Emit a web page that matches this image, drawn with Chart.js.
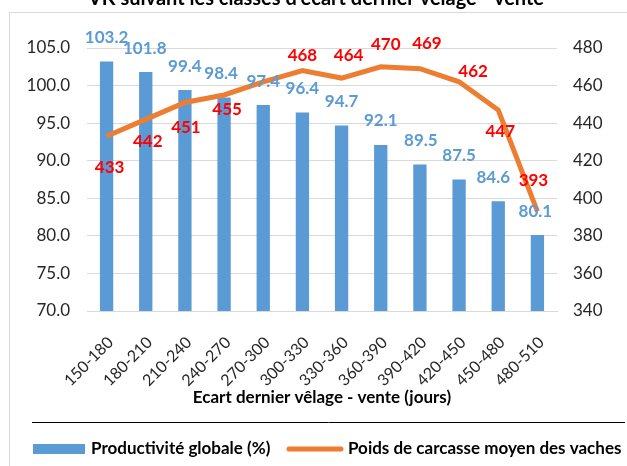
<!DOCTYPE html>
<html>
<head>
<meta charset="utf-8">
<script src="https://cdn.jsdelivr.net/npm/chart.js@4/dist/chart.umd.min.js"></script>
<style>
  html, body { margin: 0; padding: 0; background: #fff; overflow: hidden; }
  #wrap { position: relative; width: 627px; height: 466px; }
</style>
</head>
<body>
<div id="wrap"><canvas id="myChart" width="627" height="466"></canvas></div>
<script>
const categories = ['150-180', '180-210', '210-240', '240-270', '270-300', '300-330',
  '330-360', '360-390', '390-420', '420-450', '450-480', '480-510'];
const productivite = [103.2, 101.8, 99.4, 98.4, 97.4, 96.4, 94.7, 92.1, 89.5, 87.5, 84.6, 80.1];
const poidsCarcasse = [433, 442, 451, 455, 462, 468, 464, 470, 469, 462, 447, 393];
// the reference shows no label for 270-300
const poidsLabelShown = [true, true, true, true, false, true, true, true, true, true, true, true];

// label placement, pixels from the mark
const redOffsets = [[3, 31], [2, 22], [1, 25], [3, 15], [0, 0], [0, -15],
  [7, -23], [5, -22], [7, -25], [14, -10], [2, 22], [-4, -31]];
const blueOffsets = [0, -1, 0, -3, 0, 0, 0, 0, 1, 0, -5, -2];

const FONT = 'Lato, "Open Sans", sans-serif';
const BLUE = '#5B9BD5';
const ORANGE = '#ED7D31';

const decorations = {
  id: 'decorations',
  afterDatasetsDraw(chart) {
    const ctx = chart.ctx;
    ctx.save();
    ctx.textAlign = 'center';
    ctx.textBaseline = 'middle';
    ctx.font = 'bold 17px ' + FONT;

    ctx.fillStyle = BLUE;
    chart.getDatasetMeta(0).data.forEach(function (bar, i) {
      ctx.fillText(productivite[i].toFixed(1), bar.x + blueOffsets[i], bar.y - 24);
    });

    ctx.fillStyle = '#FF0000';
    chart.getDatasetMeta(1).data.forEach(function (pt, i) {
      if (!poidsLabelShown[i]) return;
      ctx.fillText(String(poidsCarcasse[i]), pt.x + redOffsets[i][0], pt.y + redOffsets[i][1]);
    });
    ctx.restore();
  },
  afterDraw(chart) {
    const ctx = chart.ctx;
    ctx.save();
    // frame
    ctx.strokeStyle = '#D9D9D9';
    ctx.lineWidth = 1;
    ctx.strokeRect(9.5, 12.5, 700, 500);

    // cut-off title
    ctx.fillStyle = '#000';
    ctx.font = 'bold 20px ' + FONT;
    ctx.textAlign = 'center';
    ctx.textBaseline = 'alphabetic';
    ctx.fillText("VK suivant les classes d'écart dernier vêlage - vente", 316, 5);

    // rule above the legend
    ctx.strokeStyle = '#000';
    ctx.beginPath();
    ctx.moveTo(32, 422.5);
    ctx.lineTo(625, 422.5);
    ctx.stroke();

    // legend
    ctx.fillStyle = BLUE;
    ctx.fillRect(33, 444, 52, 10);
    ctx.strokeStyle = ORANGE;
    ctx.lineWidth = 5;
    ctx.lineCap = 'round';
    ctx.beginPath();
    ctx.moveTo(289, 449);
    ctx.lineTo(341, 449);
    ctx.stroke();
    ctx.fillStyle = '#000';
    ctx.font = 'bold 17px ' + FONT;
    ctx.textAlign = 'left';
    ctx.textBaseline = 'middle';
    ctx.fillText('Productivité globale (%)', 91, 449);
    ctx.fillText('Poids de carcasse moyen des vaches', 348, 449);
    ctx.restore();
  }
};

const ctx = document.getElementById('myChart').getContext('2d');
const chart = new Chart(ctx, {
  type: 'bar',
  data: {
    labels: categories,
    datasets: [{
      label: 'Productivité globale (%)',
      data: productivite,
      backgroundColor: BLUE,
      categoryPercentage: 1,
      barPercentage: 0.34,
      yAxisID: 'y',
      order: 1,
    }, {
      type: 'line',
      label: 'Poids de carcasse moyen des vaches',
      data: poidsCarcasse,
      borderColor: ORANGE,
      borderWidth: 5,
      pointRadius: 0,
      tension: 0,
      fill: false,
      yAxisID: 'y1',
      order: 0,
    }],
  },
  options: {
    responsive: false,
    animation: false,
    layout: { padding: { left: 10, right: 0, top: 48, bottom: 58 } },
    plugins: {
      legend: { display: false },
      tooltip: { enabled: false },
    },
    scales: {
      x: {
        grid: { display: false },
        border: { color: '#D9D9D9' },
        ticks: {
          color: '#262626',
          font: { family: FONT, size: 16 },
          minRotation: 45,
          maxRotation: 45,
          padding: 14,
          labelOffset: 4,
        },
        title: {
          display: true,
          text: 'Ecart dernier vêlage - vente (jours)',
          color: '#000',
          font: { family: FONT, size: 17, weight: 'bold' },
          padding: { top: 2, bottom: 0 },
        },
        afterFit: function (scale) { scale.height = 97; },
      },
      y: {
        position: 'left',
        min: 70,
        max: 105,
        grid: { color: '#D9D9D9', drawTicks: false },
        border: { display: false },
        ticks: {
          stepSize: 5,
          padding: 17,
          color: '#262626',
          font: { family: FONT, size: 17 },
          callback: function (v) { return v.toFixed(1); },
        },
        afterFit: function (scale) { scale.width = 77; },
      },
      y1: {
        position: 'right',
        min: 340,
        max: 480,
        grid: { drawOnChartArea: false, drawTicks: false },
        border: { display: false },
        ticks: {
          stepSize: 20,
          padding: 16,
          color: '#262626',
          font: { family: FONT, size: 17 },
        },
        afterFit: function (scale) { scale.width = 70; },
      },
    },
  },
  plugins: [decorations],
});
</script>
</body>
</html>
